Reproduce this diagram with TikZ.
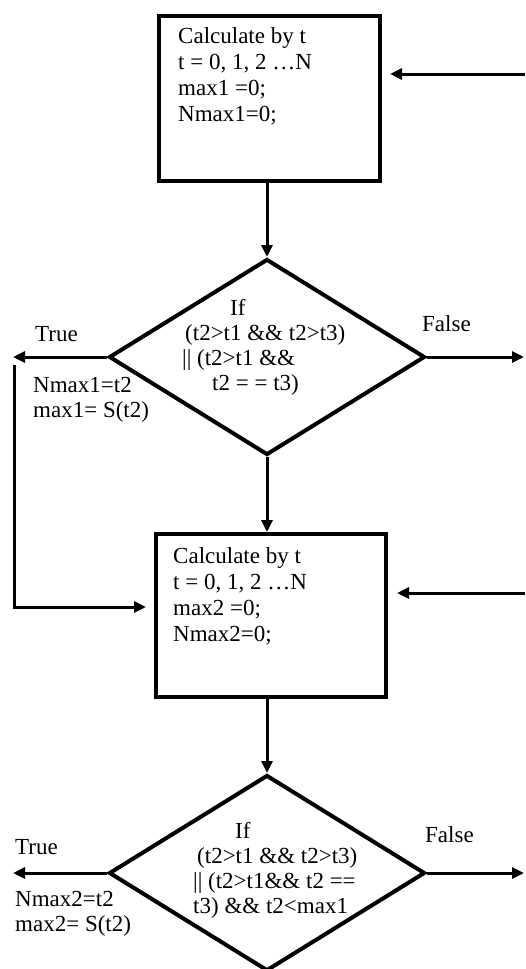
\documentclass[tikz,border=0pt]{standalone}
\usepackage{fontspec}
\setmainfont{Liberation Serif}
\usetikzlibrary{shapes.geometric,arrows.meta}

\begin{document}
\begin{tikzpicture}[x=1pt,y=-1pt,
    calcbox/.style={shape=rectangle,draw=black,line width=4pt,minimum width=221pt,minimum height=165pt,inner sep=0pt},
    decision/.style={shape=diamond,draw=black,line width=4pt,minimum width=316pt,minimum height=196pt,inner sep=0pt},
    txt/.style={anchor=north west,inner sep=0pt,align=left,font=\fontsize{23}{25}\selectfont},
    boxtxt/.style={txt,font=\fontsize{23}{26}\selectfont},
    lbl/.style={anchor=base west,inner sep=0pt,font=\fontsize{23}{25}\selectfont},
    flow/.style={-{Triangle[length=12pt,width=11pt]},line width=3pt}]
    	
    	\useasboundingbox (0,0) rectangle (525,969);
    	
    	\node[calcbox] (box1) at (269.5,98.5) {};
    	\node[boxtxt] (box1txt) at (178,27) {Calculate by t\\t = 0, 1, 2 …N\\max1 =0;\\Nmax1=0;};
    	
    	\node[decision] (d1) at (267,357) {};
    	\node[txt] (d1txt) at (182,299) {\hspace*{48pt}If\\\hspace*{3pt}(t2>t1 \&\& t2>t3)\\|| (t2>t1 \&\&\\\hspace*{30pt}t2 = = t3)};
    	\node[lbl] (true1) at (35,341) {True};
    	\node[lbl] (false1) at (422,331) {False};
    	\node[txt] (act1) at (33,377) {Nmax1=t2\\max1= S(t2)};
    	
    	\node[calcbox,minimum width=230pt,minimum height=163pt] (box2) at (271,615.5) {};
    	\node[boxtxt] (box2txt) at (173,547) {Calculate by t\\t = 0, 1, 2 …N\\max2 =0;\\Nmax2=0;};
    	
    	\node[decision] (d2) at (267,873) {};
    	\node[txt] (d2txt) at (193,822) {\hspace*{42pt}If\\\hspace*{4pt}(t2>t1 \&\& t2>t3)\\|| (t2>t1\&\& t2 ==\\t3) \&\& t2<max1};
    	\node[lbl] (true2) at (15,854) {True};
    	\node[lbl] (false2) at (425,842) {False};
    	\node[txt] (act2) at (15,891) {Nmax2=t2\\max2= S(t2)};
    	
    	\coordinate (in1) at (525,74);
    	\coordinate (in2) at (525,593);
    	\coordinate (true1end) at (13,357);
    	\coordinate (false1end) at (524,357);
    	\coordinate (loop1) at (14,365);
    	\coordinate (loop2) at (14,607);
    	\coordinate (true2end) at (13,873);
    	\coordinate (false2end) at (524,873);
    	
    	\draw[flow,shorten >=8pt] (in1) -- (in1 -| box1.east);
    	\draw[flow] (d1.north |- box1.south) -- (d1.north);
    	\draw[flow] (d1.west) -- (true1end);
    	\draw[flow] (d1.east) -- (false1end);
    	\draw[flow,shorten >=8pt] (loop1) -- (loop2) -- (loop2 -| box2.west);
    	\draw[flow] (d1.south) -- (d1.south |- box2.north);
    	\draw[flow,shorten >=9pt] (in2) -- (in2 -| box2.east);
    	\draw[flow] (d2.north |- box2.south) -- (d2.north);
    	\draw[flow] (d2.west) -- (true2end);
    	\draw[flow] (d2.east) -- (false2end);
    	
\end{tikzpicture}
\end{document}
